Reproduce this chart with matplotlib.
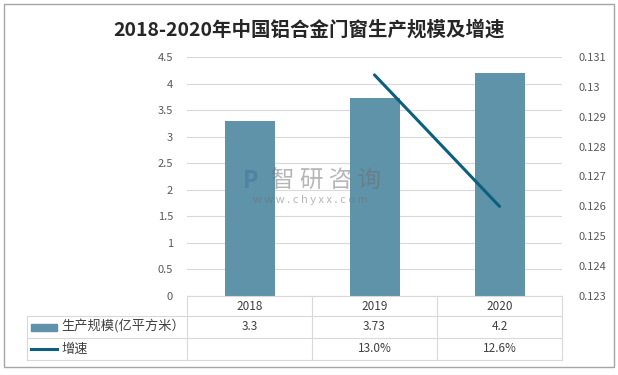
import matplotlib
matplotlib.use('Agg')
import matplotlib.pyplot as plt
from matplotlib.patches import Rectangle
from matplotlib.lines import Line2D
import matplotlib.transforms as mtrans

plt.rcParams['font.family'] = ['Noto Sans CJK SC', 'DejaVu Sans']

years = ['2018', '2019', '2020']
scale = [3.3, 3.73, 4.2]
growth = [None, 0.1304, 0.126]
growth_labels = ['', '13.0%', '12.6%']
row_names = ['生产规模(亿平方米）', '增速']

bar_color = '#5e93a9'
line_color = '#0d5f7f'
grid_color = '#d9d9d9'
text_color = '#595959'

W, H = 618, 375
fig = plt.figure(figsize=(W / 100, H / 100), dpi=100)

def fx(x):
    return x / W

def fy(y):
    return 1 - y / H

# plot area in pixels
L, R, T, B = 187, 562, 57, 296
ax = fig.add_axes([fx(L), fy(B), (R - L) / W, (B - T) / H])
ax2 = ax.twinx()

xs = list(range(len(years)))
ax.bar(xs, scale, width=0.4, color=bar_color, zorder=2)
ax.set_xlim(-0.5, len(years) - 0.5)
ax.set_ylim(0, 4.5)
ax.set_yticks([i * 0.5 for i in range(10)])
ax.set_yticklabels(['0', '0.5', '1', '1.5', '2', '2.5', '3', '3.5', '4', '4.5'])
ax.yaxis.grid(True, color=grid_color, lw=0.8)
ax.set_axisbelow(True)
ax.set_xticks([])
ax.tick_params(axis='y', length=0, labelsize=8, labelcolor=text_color, pad=10)
for s in ['top', 'left', 'right']:
    ax.spines[s].set_visible(False)
ax.spines['bottom'].set_color(grid_color)

gx = [x for x, g in zip(xs, growth) if g is not None]
gy = [g for g in growth if g is not None]
ax2.plot(gx, gy, color=line_color, lw=2.2, solid_capstyle='round')
ax2.set_ylim(0.123, 0.131)
ax2.set_yticks([0.123 + i * 0.001 for i in range(9)])
ax2.set_yticklabels(['0.123', '0.124', '0.125', '0.126', '0.127', '0.128', '0.129', '0.13', '0.131'])
ax2.tick_params(axis='y', length=0, labelsize=8, labelcolor=text_color, pad=12)
for s in ax2.spines.values():
    s.set_visible(False)

# data table below the plot
tr = mtrans.blended_transform_factory(ax.transData, fig.transFigure)
rows_y = [296, 316, 338, 360]
label_left = 27
for y in rows_y[1:]:
    fig.add_artist(Line2D([fx(label_left), fx(R)], [fy(y), fy(y)], color=grid_color, lw=0.8))
for i in range(len(years) + 1):
    fig.add_artist(Line2D([i - 0.5, i - 0.5], [fy(296), fy(360)], color=grid_color, lw=0.8, transform=tr))
fig.add_artist(Line2D([fx(label_left)] * 2, [fy(316), fy(360)], color=grid_color, lw=0.8))

for i, yr in enumerate(years):
    fig.text(i, fy(306), yr, transform=tr, ha='center', va='center', fontsize=8.5, color='#404040')
    fig.text(i, fy(327), str(scale[i]), transform=tr, ha='center', va='center', fontsize=8.5, color='#404040')
    fig.text(i, fy(349), growth_labels[i], transform=tr, ha='center', va='center', fontsize=8.5, color='#404040')

fig.add_artist(Rectangle((fx(31), fy(331)), fx(26), 7 / H, color=bar_color))
fig.text(fx(61), fy(327), row_names[0], ha='left', va='center', fontsize=9.5, color='#404040')
fig.add_artist(Line2D([fx(31), fx(57)], [fy(349), fy(349)], color=line_color, lw=2.2))
fig.text(fx(61), fy(349), row_names[1], ha='left', va='center', fontsize=9.5, color='#404040')

# title
fig.text(0.5, fy(30), '2018-2020年中国铝合金门窗生产规模及增速', ha='center', va='center',
         fontsize=14, fontweight='bold', color='#262626')

# watermark
fig.text(fx(251), fy(181), 'P', ha='center', va='center', fontsize=17, fontweight='bold',
         color='#3f6f99', alpha=0.45)
fig.text(fx(326), fy(181), '智 研 咨 询', ha='center', va='center', fontsize=17, color='#6f6f6f', alpha=0.5)
fig.text(fx(310), fy(200), 'w w w . c h y x x . c o m', ha='center', va='center', fontsize=8,
         color='#6f6f6f', alpha=0.5)

# outer border
fig.add_artist(Rectangle((fx(4), fy(367)), fx(610), 363 / H, fill=False, ec='#a6a6a6', lw=1))

fig.savefig('out.png', dpi=100)
